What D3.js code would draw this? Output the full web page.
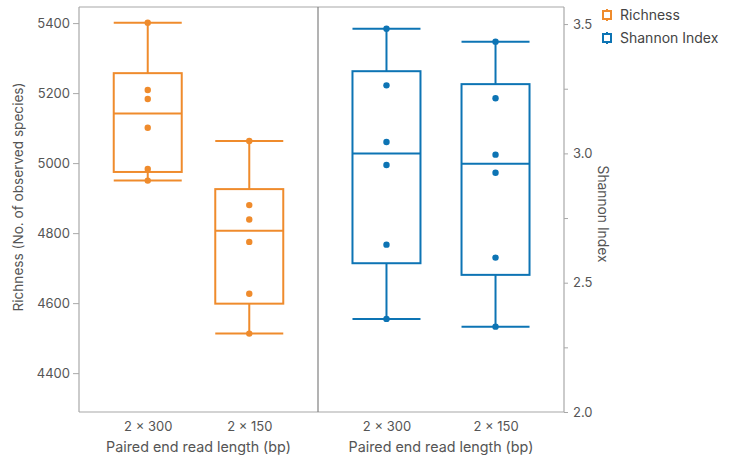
<!DOCTYPE html>
<html>
<head>
<meta charset="utf-8">
<script src="https://cdn.jsdelivr.net/npm/d3@7"></script>
<style>
  body { margin: 0; background: #fff; }
  text { font-family: Inter, "Noto Sans", sans-serif; }
</style>
</head>
<body>
<div id="chart"></div>
<script>
// data (6 samples per group)
var categories = ["2 × 300", "2 × 150"];
var richness300 = [5401, 5209, 5183, 5101, 4983, 4950];
var richness150 = [5063, 4880, 4839, 4775, 4627, 4513];
var shannon300 = [3.482, 3.263, 3.044, 2.955, 2.647, 2.360];
var shannon150 = [3.432, 3.213, 2.995, 2.925, 2.597, 2.330];
var richnessTicks = [4400, 4600, 4800, 5000, 5200, 5400];
var shannonTicks = [2.0, 2.5, 3.0, 3.5];
var shannonMinor = [2.25, 2.75, 3.25];
var seriesNames = ["Richness", "Shannon Index"];

var W = 738, H = 460;
// plot frame (window.top is reserved, so prefixed names)
var pTop = 7, pBottom = 412, pLeft = 79, pMid = 318, pRight = 564;
var orange = "#ef8b2c", blue = "#0d74b4";
var axisGray = "#a8a8a8", textGray = "#555";

var svg = d3.select("#chart").append("svg")
  .attr("width", W)
  .attr("height", H);

var yL = d3.scaleLinear().domain([4289, 5446]).range([pBottom, pTop]);
var yR = d3.scaleLinear().domain([2.0, 3.566]).range([pBottom, pTop]);

var xL = d3.scalePoint().domain(categories).range([pLeft, pMid]).padding(0.677);
var xR = d3.scalePoint().domain(categories).range([pMid, pRight]).padding(0.628);

// R6 style quantile (matches box edges in the reference)
function quant(sorted, p){
  var n = sorted.length;
  var h = (n + 1) * p - 1;
  var lo = Math.floor(h), f = h - lo;
  if(lo < 0) return sorted[0];
  if(lo >= n - 1) return sorted[n - 1];
  return sorted[lo] + f * (sorted[lo + 1] - sorted[lo]);
}

function stats(vals){
  var s = vals.slice().sort(d3.ascending);
  return {min: s[0], q1: quant(s, 0.25), med: quant(s, 0.5), q3: quant(s, 0.75), max: s[s.length - 1]};
}

var boxW = 68;

function drawBox(x, y, cat, vals, color){
  var st = stats(vals);
  var cx = x(cat);
  var g = svg.append("g")
    .attr("stroke", color)
    .attr("stroke-width", 2)
    .attr("fill", "none");
  // whiskers
  g.append("line").attr("x1", cx).attr("x2", cx).attr("y1", y(st.max)).attr("y2", y(st.q3));
  g.append("line").attr("x1", cx).attr("x2", cx).attr("y1", y(st.q1)).attr("y2", y(st.min));
  // caps
  [st.max, st.min].forEach(function(v){
    g.append("line").attr("x1", cx - boxW / 2).attr("x2", cx + boxW / 2).attr("y1", y(v)).attr("y2", y(v));
  });
  // box + median
  g.append("rect")
    .attr("x", cx - boxW / 2)
    .attr("y", y(st.q3))
    .attr("width", boxW)
    .attr("height", y(st.q1) - y(st.q3));
  g.append("line").attr("x1", cx - boxW / 2).attr("x2", cx + boxW / 2).attr("y1", y(st.med)).attr("y2", y(st.med));
  // points
  svg.append("g").selectAll("circle")
    .data(vals)
    .enter().append("circle")
    .attr("cx", cx)
    .attr("cy", function(d){ return y(d); })
    .attr("r", 3.2)
    .attr("fill", color);
}

// frame
var frame = svg.append("g").attr("stroke", axisGray).attr("stroke-width", 1.2);
frame.append("line").attr("x1", pLeft).attr("x2", pRight).attr("y1", pTop).attr("y2", pTop);
frame.append("line").attr("x1", pLeft).attr("x2", pRight).attr("y1", pBottom).attr("y2", pBottom);
frame.append("line").attr("x1", pLeft).attr("x2", pLeft).attr("y1", pTop).attr("y2", pBottom);
frame.append("line").attr("x1", pRight).attr("x2", pRight).attr("y1", pTop).attr("y2", pBottom);
svg.append("line")
  .attr("x1", pMid).attr("x2", pMid).attr("y1", pTop).attr("y2", pBottom)
  .attr("stroke", "#808080").attr("stroke-width", 1.2);

// left axis
var gl = svg.append("g")
  .attr("transform", "translate(" + pLeft + ",0)")
  .call(d3.axisLeft(yL).tickValues(richnessTicks).tickSize(6).tickPadding(3).tickFormat(d3.format("d")));
gl.select(".domain").remove();
gl.selectAll(".tick line").attr("stroke", axisGray);
gl.selectAll("text").attr("fill", textGray).style("font-size", "13px");

// right axis
var gr = svg.append("g")
  .attr("transform", "translate(" + pRight + ",0)")
  .call(d3.axisRight(yR).tickValues(shannonTicks).tickSize(4).tickPadding(5).tickFormat(d3.format(".1f")));
gr.select(".domain").remove();
gr.selectAll(".tick line").attr("stroke", axisGray);
gr.selectAll("text").attr("fill", textGray).style("font-size", "13px");
var grm = svg.append("g")
  .attr("transform", "translate(" + pRight + ",0)")
  .call(d3.axisRight(yR).tickValues(shannonMinor).tickSize(4).tickFormat(""));
grm.select(".domain").remove();
grm.selectAll(".tick line").attr("stroke", axisGray);

// x axes
[xL, xR].forEach(function(x){
  var gx = svg.append("g")
    .attr("transform", "translate(0," + pBottom + ")")
    .call(d3.axisBottom(x).tickSize(0).tickPadding(10));
  gx.select(".domain").remove();
  gx.selectAll("text").attr("fill", textGray).style("font-size", "13px");
  var r = x.range();
  svg.append("text")
    .attr("x", (r[0] + r[1]) / 2)
    .attr("y", 452)
    .attr("text-anchor", "middle")
    .attr("fill", textGray)
    .style("font-size", "14.3px")
    .text("Paired end read length (bp)");
});

// axis titles
svg.append("text")
  .attr("transform", "translate(23,197) rotate(-90)")
  .attr("text-anchor", "middle")
  .attr("fill", textGray)
  .style("font-size", "13.6px")
  .text("Richness (No. of observed species)");
svg.append("text")
  .attr("transform", "translate(598,214) rotate(90)")
  .attr("text-anchor", "middle")
  .attr("fill", textGray)
  .style("font-size", "13.8px")
  .text("Shannon Index");

// boxes
drawBox(xL, yL, categories[0], richness300, orange);
drawBox(xL, yL, categories[1], richness150, orange);
drawBox(xR, yR, categories[0], shannon300, blue);
drawBox(xR, yR, categories[1], shannon150, blue);

// legend
var legend = svg.append("g").attr("transform", "translate(607,0)");
[orange, blue].forEach(function(c, i){
  var cy = 15 + i * 23;
  var lg = legend.append("g").attr("stroke", c).attr("stroke-width", 2).attr("fill", "none");
  lg.append("line").attr("x1", 0).attr("x2", 0).attr("y1", cy - 6).attr("y2", cy + 6);
  lg.append("rect").attr("x", -4).attr("y", cy - 4).attr("width", 8).attr("height", 8).attr("fill", "#fff");
  legend.append("text")
    .attr("x", 13)
    .attr("y", cy)
    .attr("dy", "0.35em")
    .attr("fill", "#444")
    .style("font-size", "14px")
    .text(seriesNames[i]);
});
</script>
</body>
</html>
